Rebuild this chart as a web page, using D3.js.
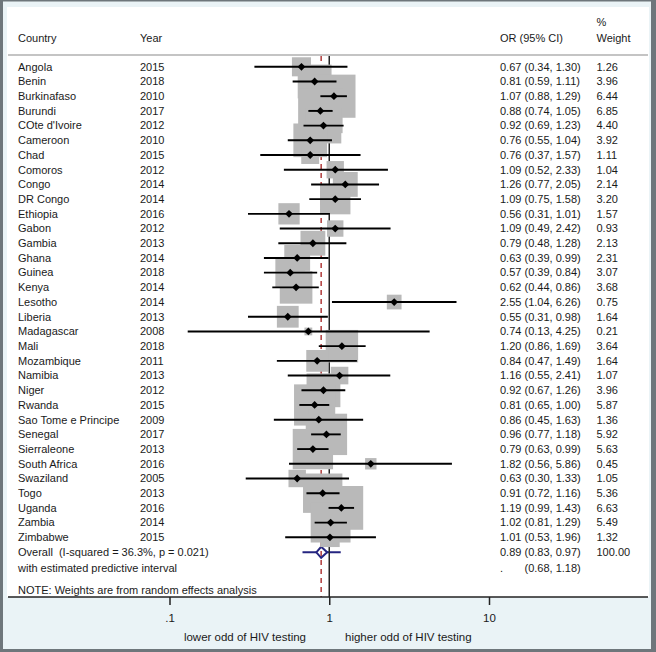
<!DOCTYPE html>
<html><head><meta charset="utf-8">
<script src="https://cdn.jsdelivr.net/npm/d3@7"></script>
<style>body{margin:0;padding:0;background:#fff}svg{display:block}text{font-family:"Liberation Sans",Arial,sans-serif;font-size:11px;fill:#1a1a1a}</style>
</head><body><svg id="c" width="656" height="652"></svg>
<script>
const countries = ["Angola","Benin","Burkinafaso","Burundi","COte d'Ivoire","Cameroon","Chad","Comoros","Congo","DR Congo","Ethiopia","Gabon","Gambia","Ghana","Guinea","Kenya","Lesotho","Liberia","Madagascar","Mali","Mozambique","Namibia","Niger","Rwanda","Sao Tome e Principe","Senegal","Sierraleone","South Africa","Swaziland","Togo","Uganda","Zambia","Zimbabwe"];
const years = [2015,2018,2010,2017,2012,2010,2015,2012,2014,2014,2016,2012,2013,2014,2018,2014,2014,2013,2008,2018,2011,2013,2012,2015,2009,2017,2013,2016,2005,2013,2016,2014,2015];
const orValues = [0.67,0.81,1.07,0.88,0.92,0.76,0.76,1.09,1.26,1.09,0.56,1.09,0.79,0.63,0.57,0.62,2.55,0.55,0.74,1.20,0.84,1.16,0.92,0.81,0.86,0.96,0.79,1.82,0.63,0.91,1.19,1.02,1.01];
const ciLow = [0.34,0.59,0.88,0.74,0.69,0.55,0.37,0.52,0.77,0.75,0.31,0.49,0.48,0.39,0.39,0.44,1.04,0.31,0.13,0.86,0.47,0.55,0.67,0.65,0.45,0.77,0.63,0.56,0.30,0.72,0.99,0.81,0.53];
const ciHigh = [1.30,1.11,1.29,1.05,1.23,1.04,1.57,2.33,2.05,1.58,1.01,2.42,1.28,0.99,0.84,0.86,6.26,0.98,4.25,1.69,1.49,2.41,1.26,1.00,1.63,1.18,0.99,5.86,1.33,1.16,1.43,1.29,1.96];
const weights = [1.26,3.96,6.44,6.85,4.40,3.92,1.11,1.04,2.14,3.20,1.57,0.93,2.13,2.31,3.07,3.68,0.75,1.64,0.21,3.64,1.64,1.07,3.96,5.87,1.36,5.92,5.63,0.45,1.05,5.36,6.63,5.49,1.32];
const overall = {or:0.89, lo:0.83, hi:0.97, weight:100.00, piLo:0.68, piHi:1.18};
const overallLabel = "Overall  (I-squared = 36.3%, p = 0.021)";
const piLabel = "with estimated predictive interval";
const noteLabel = "NOTE: Weights are from random effects analysis";
const tickValues = [0.1,1,10];
const tickLabels = [".1","1","10"];
const leftLabel = "lower odd of HIV testing";
const rightLabel = "higher odd of HIV testing";

const svg = d3.select("#c");
const f2 = d3.format(".2f");
// background
svg.append("rect").attr("x",0).attr("y",0).attr("width",656).attr("height",652).attr("fill","#6e767b");
svg.append("rect").attr("x",3).attr("y",1.5).attr("width",648).attr("height",647.5).attr("fill","#eaf3f6");
svg.append("rect").attr("x",7).attr("y",7).attr("width",642).attr("height",590).attr("fill","#ffffff");

const x = d3.scaleLog().domain([0.1,10]).range([169.5,489]);
const n = countries.length;
const y = d3.scaleLinear().domain([0,n-1]).range([66.8,537.3]);
const yOverall = y(n-1)+15;
const yPI = yOverall+15.4;
const yTop = 55, yAxis = 597;

// header
const colCountry=18, colYear=140, colOR=500, colW=596.5;
svg.append("text").attr("x",colCountry).attr("y",38).attr("dy","0.35em").text("Country");
svg.append("text").attr("x",colYear).attr("y",38).attr("dy","0.35em").text("Year");
svg.append("text").attr("x",colOR).attr("y",38).attr("dy","0.35em").text("OR (95% CI)");
svg.append("text").attr("x",colW).attr("y",22).attr("dy","0.35em").text("%");
svg.append("text").attr("x",colW).attr("y",38).attr("dy","0.35em").text("Weight");
svg.append("line").attr("x1",8).attr("x2",648).attr("y1",yTop).attr("y2",yTop).attr("stroke","#c4c4c4").attr("stroke-width",2);

// overall PI + diamond
svg.append("line").attr("x1",x(overall.piLo)).attr("x2",x(overall.piHi)).attr("y1",yOverall).attr("y2",yOverall).attr("stroke","#252580").attr("stroke-width",2);
const dh=5.5;
svg.append("path").attr("d",`M${x(overall.lo)},${yOverall}L${x(overall.or)},${yOverall-dh}L${x(overall.hi)},${yOverall}L${x(overall.or)},${yOverall+dh}Z`).attr("fill","#fff").attr("stroke","#252580").attr("stroke-width",2);

// reference lines
svg.append("line").attr("x1",x(overall.or)).attr("x2",x(overall.or)).attr("y1",yTop+1).attr("y2",yAxis).attr("stroke","#b03a3a").attr("stroke-width",1.5).attr("stroke-dasharray","5,4");
svg.append("line").attr("x1",x(1)).attr("x2",x(1)).attr("y1",yTop+1).attr("y2",yAxis).attr("stroke","#222").attr("stroke-width",1.5);

// boxes
const k = 17;
const idx = d3.range(n);
svg.append("g").selectAll("rect").data(idx).join("rect")
  .attr("x",i=>x(orValues[i])-k*Math.sqrt(weights[i])/2)
  .attr("y",i=>y(i)-k*Math.sqrt(weights[i])/2)
  .attr("width",i=>k*Math.sqrt(weights[i]))
  .attr("height",i=>k*Math.sqrt(weights[i]))
  .attr("fill","#b9b9b9");
// CI lines
svg.append("g").selectAll("line").data(idx).join("line")
  .attr("x1",i=>x(ciLow[i])).attr("x2",i=>x(ciHigh[i]))
  .attr("y1",i=>y(i)).attr("y2",i=>y(i))
  .attr("stroke","#000").attr("stroke-width",1.9);
// points
const pr=3.9;
svg.append("g").selectAll("path").data(idx).join("path")
  .attr("d",i=>{const cx=x(orValues[i]),cy=y(i);return `M${cx-pr},${cy}L${cx},${cy-pr}L${cx+pr},${cy}L${cx},${cy+pr}Z`;})
  .attr("fill","#000");

// row texts
const g = svg.append("g");
g.selectAll("text.c").data(idx).join("text").attr("class","c").attr("x",colCountry).attr("y",i=>y(i)).attr("dy","0.35em").text(i=>countries[i]);
g.selectAll("text.y").data(idx).join("text").attr("class","y").attr("x",colYear).attr("y",i=>y(i)).attr("dy","0.35em").text(i=>years[i]);
g.selectAll("text.o").data(idx).join("text").attr("class","o").attr("x",colOR).attr("y",i=>y(i)).attr("dy","0.35em").text(i=>`${f2(orValues[i])} (${f2(ciLow[i])}, ${f2(ciHigh[i])})`);
g.selectAll("text.w").data(idx).join("text").attr("class","w").attr("x",colW).attr("y",i=>y(i)).attr("dy","0.35em").text(i=>f2(weights[i]));

svg.append("text").attr("x",colCountry).attr("y",yOverall).attr("dy","0.35em").attr("xml:space","preserve").style("white-space","pre").text(overallLabel);
svg.append("text").attr("x",colOR).attr("y",yOverall).attr("dy","0.35em").text(`${f2(overall.or)} (${f2(overall.lo)}, ${f2(overall.hi)})`);
svg.append("text").attr("x",colW).attr("y",yOverall).attr("dy","0.35em").text(f2(overall.weight));
svg.append("text").attr("x",colCountry).attr("y",yPI).attr("dy","0.35em").text(piLabel);
svg.append("text").attr("x",colOR).attr("y",yPI).attr("dy","0.35em").text(".");
svg.append("text").attr("x",colOR+24.5).attr("y",yPI).attr("dy","0.35em").text(`(${f2(overall.piLo)}, ${f2(overall.piHi)})`);
svg.append("text").attr("x",colCountry).attr("y",590).attr("dy","0.35em").text(noteLabel);

// axis
const axis = d3.axisBottom(x).tickValues(tickValues).tickFormat((d,i)=>tickLabels[i]).tickSize(8).tickPadding(9);
const ag = svg.append("g").attr("transform",`translate(0,${yAxis})`).call(axis);
ag.select(".domain").remove();
ag.selectAll(".tick line").attr("stroke","#222").attr("stroke-width",1.5);
ag.selectAll(".tick text").style("font-family","Liberation Sans, Arial, sans-serif").style("font-size","11.5px").attr("fill","#1a1a1a");
svg.append("line").attr("x1",8).attr("x2",648).attr("y1",yAxis).attr("y2",yAxis).attr("stroke","#222").attr("stroke-width",1.5);
svg.append("text").attr("x",306).attr("y",637).attr("dy","0.35em").attr("text-anchor","end").style("font-size","11.5px").text(leftLabel);
svg.append("text").attr("x",345).attr("y",637).attr("dy","0.35em").style("font-size","11.5px").text(rightLabel);
</script></body></html>
